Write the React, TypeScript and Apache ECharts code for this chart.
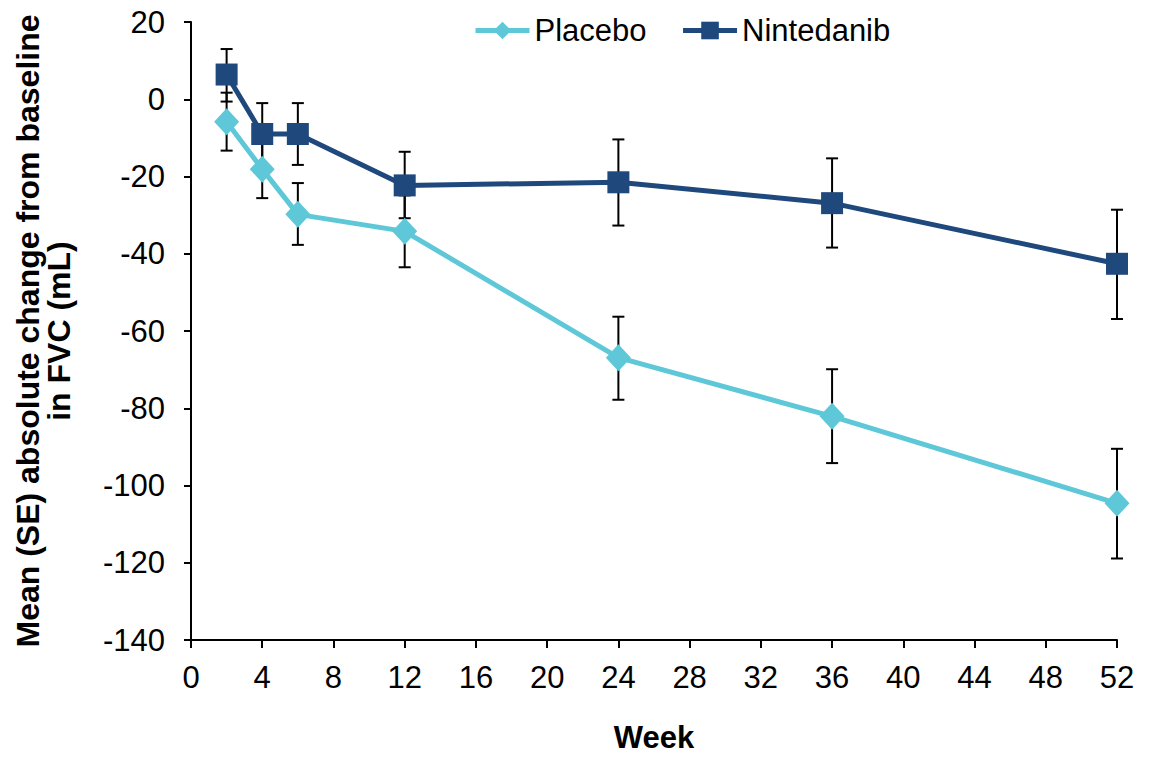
import React, { useEffect, useRef } from "react";
import * as echarts from "echarts";

const weeks = [2, 4, 6, 12, 24, 36, 52];
const placeboMean = [-5.8, -18.1, -29.8, -34.2, -66.9, -82.1, -104.6];
const placeboLow = [-13.3, -25.6, -37.7, -43.5, -77.8, -94.2, -118.9];
const placeboHigh = [1.7, -10.6, -21.7, -24.9, -56.3, -69.9, -90.5];
const ninMean = [6.4, -9.0, -9.0, -22.3, -21.5, -26.9, -42.6];
const ninLow = [-0.6, -17.0, -17.0, -30.8, -32.7, -38.4, -56.9];
const ninHigh = [13.0, -1.0, -1.0, -13.6, -10.4, -15.3, -28.6];

const PLACEBO_COLOR = "#5EC8D8";
const NIN_COLOR = "#1F497D";
const FONT = "Liberation Sans, Arial, sans-serif";
const FS = 31;

function errorSeries(name: string, low: number[], high: number[]) {
  return {
    type: "custom",
    name: name + "-err",
    z: 1,
    silent: true,
    data: weeks.map((w, i) => [w, low[i], high[i]]),
    renderItem: (params: any, api: any) => {
      const x = api.value(0);
      const lo = api.coord([x, api.value(1)]);
      const hi = api.coord([x, api.value(2)]);
      const cap = 6;
      const style = { stroke: "#000", lineWidth: 2 };
      return {
        type: "group",
        children: [
          { type: "line", shape: { x1: lo[0], y1: lo[1], x2: hi[0], y2: hi[1] }, style },
          { type: "line", shape: { x1: lo[0] - cap, y1: lo[1], x2: lo[0] + cap, y2: lo[1] }, style },
          { type: "line", shape: { x1: hi[0] - cap, y1: hi[1], x2: hi[0] + cap, y2: hi[1] }, style },
        ],
      };
    },
  };
}

export default function App() {
  const ref = useRef<HTMLDivElement>(null);
  useEffect(() => {
    document.body.style.margin = "0";
    document.body.style.overflow = "hidden";
    const chart = echarts.init(ref.current!, null, { renderer: "svg" });
    chart.setOption({
      animation: false,
      textStyle: { fontFamily: FONT },
      grid: { left: 191, right: 34, top: 22, bottom: 111, containLabel: false },
      legend: {
        left: 468,
        top: 10,
        itemWidth: 54,
        itemHeight: 22,
        itemGap: 34,
        lineStyle: { width: 5 },
        textStyle: { fontSize: FS, color: "#000", fontFamily: FONT },
        data: ["Placebo", "Nintedanib"],
      },
      xAxis: {
        type: "value",
        min: 0,
        max: 52,
        interval: 4,
        name: "Week",
        nameLocation: "middle",
        nameGap: 82,
        nameTextStyle: { fontSize: FS, fontWeight: "bold", color: "#000", fontFamily: FONT },
        axisLine: { onZero: false, lineStyle: { color: "#000", width: 2 } },
        axisTick: { show: true, length: 8, lineStyle: { color: "#000", width: 2 } },
        axisLabel: { fontSize: FS, color: "#000", margin: 22, fontFamily: FONT },
        splitLine: { show: false },
      },
      yAxis: {
        type: "value",
        min: -140,
        max: 20,
        interval: 20,
        name: "Mean (SE) absolute change from baseline\nin FVC (mL)",
        nameLocation: "middle",
        nameGap: 117,
        nameTextStyle: {
          fontSize: 32,
          fontWeight: "bold",
          color: "#000",
          fontFamily: FONT,
          lineHeight: 31,
          align: "center",
        },
        axisLine: { show: true, lineStyle: { color: "#000", width: 2 } },
        axisTick: { show: true, length: 7, lineStyle: { color: "#000", width: 2 } },
        axisLabel: { fontSize: FS, color: "#000", margin: 26, fontFamily: FONT },
        splitLine: { show: false },
      },
      series: [
        errorSeries("Placebo", placeboLow, placeboHigh),
        errorSeries("Nintedanib", ninLow, ninHigh),
        {
          name: "Placebo",
          type: "line",
          z: 3,
          data: weeks.map((w, i) => [w, placeboMean[i]]),
          symbol: "diamond",
          symbolSize: [25, 27],
          lineStyle: { color: PLACEBO_COLOR, width: 5 },
          itemStyle: { color: PLACEBO_COLOR },
        },
        {
          name: "Nintedanib",
          type: "line",
          z: 4,
          data: weeks.map((w, i) => [w, ninMean[i]]),
          symbol: "rect",
          symbolSize: 22,
          lineStyle: { color: NIN_COLOR, width: 5 },
          itemStyle: { color: NIN_COLOR },
        },
      ],
    });
    return () => chart.dispose();
  }, []);
  return <div ref={ref} style={{ width: 1151, height: 758 }} />;
}
